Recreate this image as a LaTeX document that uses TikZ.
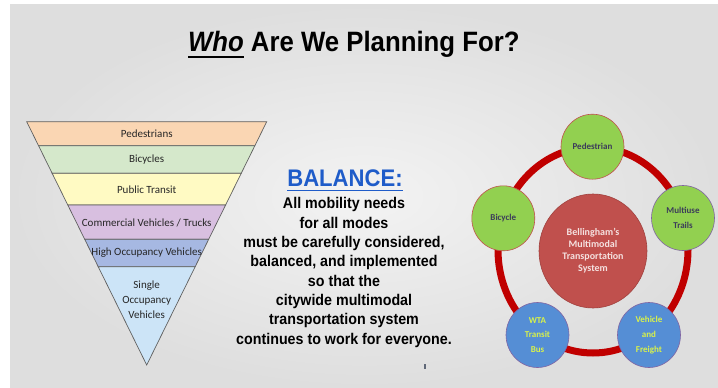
\documentclass[tikz,border=0pt]{standalone}
\usepackage{fontspec}
\usetikzlibrary{shapes.geometric}

\newfontfamily\arialfont[FakeStretch=0.92]{Liberation Sans}
\newfontfamily\calfont{Carlito}
\newcommand{\thickul}[3]{\setbox0\hbox{#3}\rlap{\raisebox{-#2}{\rule{\wd0}{#1}}}\box0\relax}

\definecolor{bgcentre}{HTML}{F3F3F3}
\definecolor{bgedge}{HTML}{DEDEDE}
\definecolor{bandpeach}{HTML}{FAD6B3}
\definecolor{bandgreen}{HTML}{D5E8CB}
\definecolor{bandyellow}{HTML}{FFFAC3}
\definecolor{bandpurple}{HTML}{D8BFE0}
\definecolor{bandblue}{HTML}{A6B8E2}
\definecolor{bandsky}{HTML}{CCE4F7}
\definecolor{funnelline}{HTML}{5F5F5F}
\definecolor{bandink}{HTML}{262626}
\definecolor{balanceblue}{HTML}{1F5CC9}
\definecolor{ringred}{HTML}{C00000}
\definecolor{modegreen}{HTML}{92D050}
\definecolor{modered}{HTML}{C0504D}
\definecolor{modepurple}{HTML}{8064A2}
\definecolor{modeblue}{HTML}{558ED5}
\definecolor{greenink}{HTML}{3C3C5A}
\definecolor{blueink}{HTML}{D9F24A}
\definecolor{hubred}{HTML}{C0504D}
\definecolor{hubedge}{HTML}{A0403D}
\definecolor{hubink}{HTML}{F5E1E0}
\definecolor{tickgrey}{HTML}{606878}

\begin{document}
\begin{tikzpicture}[x=1pt, y=-1pt,
  band/.style={draw=funnelline, line width=0.7pt},
  bandtext/.style={font=\calfont\fontsize{11}{15}\selectfont, text=bandink, align=center, inner sep=0pt},
  greenmode/.style={ellipse, draw=modered, line width=0.6pt, fill=modegreen, minimum width=63pt, minimum height=65pt,
    inner sep=0pt, align=center, text=greenink, font=\calfont\bfseries\fontsize{9}{14.7}\selectfont},
  bluemode/.style={greenmode, draw=modepurple, fill=modeblue, text=blueink}]
  \useasboundingbox (0,0) rectangle (718,388);
  \fill[white] (0,0) rectangle (718,388);
  \shade[inner color=bgcentre, outer color=bgedge] (10,4) rectangle (718,388);

  \node[anchor=base, font=\arialfont\bfseries\fontsize{28}{34}\selectfont] (title) at (353.8,51.7)
    {\thickul{2pt}{6pt}{\itshape Who} Are We Planning For?};

  \foreach \ya/\yb/\col in {121.7/145.7/bandpeach, 145.7/173.3/bandgreen, 173.3/205/bandyellow,
      205/239.3/bandpurple, 239.3/266.7/bandblue, 266.7/365/bandsky}
    \draw[band, fill=\col] ({146.7-0.4932*(365-\ya)},\ya) -- ({146.7+0.4932*(365-\ya)},\ya)
      -- ({146.7+0.4932*(365-\yb)},\yb) -- ({146.7-0.4932*(365-\yb)},\yb) -- cycle;

  \node[bandtext] (pedestrians) at (146.7,134) {Pedestrians};
  \node[bandtext] (bicycles) at (146.7,159.3) {Bicycles};
  \node[bandtext] (transit) at (146.7,190) {Public Transit};
  \node[bandtext] (trucks) at (146.7,223.3) {Commercial Vehicles / Trucks};
  \node[bandtext] (hov) at (146.7,252.7) {High Occupancy Vehicles};
  \node[bandtext] (sov) at (146.7,299.5) {Single\\Occupancy\\Vehicles};

  \node[anchor=base, text=balanceblue, font=\arialfont\bfseries\fontsize{24}{28}\selectfont] (balance) at (345,186.7)
    {\thickul{1.5pt}{4.75pt}{BALANCE:}};
  \node[anchor=north, align=center, inner sep=0pt, font=\arialfont\bfseries\fontsize{15.5}{19.3}\selectfont] (needs) at (344,197.5)
    {All mobility needs\\for all modes\\must be carefully considered,\\balanced, and implemented\\so that the\\citywide multimodal\\transportation system\\continues to work for everyone.};
  \draw[tickgrey, line width=1.3pt] (425,364) -- (425,369.3);

  \coordinate (hub) at (593,250);
  \draw[ringred, line width=7pt] (hub) ellipse [x radius=95pt, y radius=103pt];
  \node[ellipse, draw=hubedge, line width=0.6pt, fill=hubred, minimum width=108pt, minimum height=114pt, inner sep=0pt,
    align=center, text=hubink, font=\calfont\bfseries\fontsize{10}{12}\selectfont] (system) at (593,251)
    {Bellingham’s\\Multimodal\\Transportation\\System};
  \node[greenmode] (pedestrian) at (592.5,146.7) {Pedestrian};
  \node[greenmode] (bicycle) at (503.3,218.3) {Bicycle};
  \node[greenmode, draw=modepurple] (trails) at (683,218) {Multiuse\\Trails};
  \node[bluemode] (bus) at (537.5,335) {WTA\\Transit\\Bus};
  \node[bluemode] (freight) at (649,335) {Vehicle\\and\\Freight};
\end{tikzpicture}
\end{document}
